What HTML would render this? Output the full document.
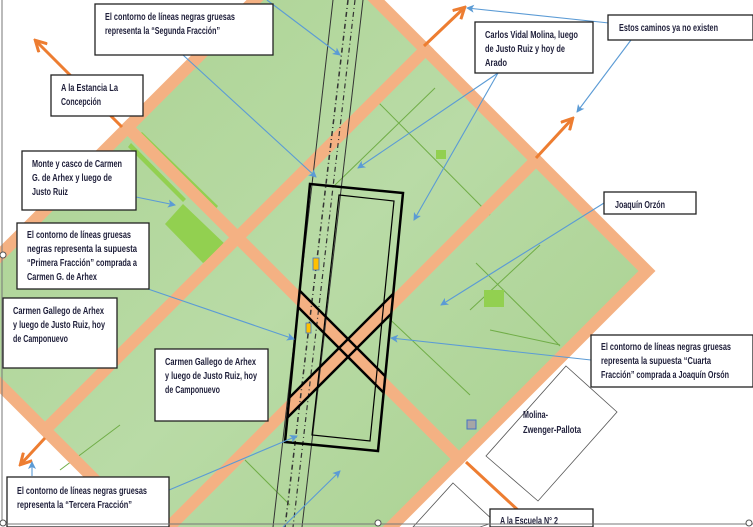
<!DOCTYPE html>
<html><head><meta charset="utf-8"><style>
html,body{margin:0;padding:0;background:#fff;overflow:hidden;width:753px;height:527px;}
svg{display:block;}
text{font-family:"Liberation Sans Narrow","Liberation Sans",sans-serif;font-size:10.5px;font-weight:bold;fill:#1f1f3a;}
</style></head><body>
<svg width="753" height="527" viewBox="0 0 753 527" xmlns="http://www.w3.org/2000/svg">
<defs>
<linearGradient id="g" x1="0" y1="0" x2="1" y2="1">
<stop offset="0" stop-color="#a7d08c"/><stop offset="0.5" stop-color="#b9dba6"/><stop offset="1" stop-color="#a3cd88"/>
</linearGradient>
<marker id="ab" markerWidth="8" markerHeight="8" refX="7" refY="4" orient="auto" markerUnits="userSpaceOnUse"><path d="M0,0 L8,4 L0,8 L2,4 z" fill="#5b9bd5"/></marker>
<marker id="ao" markerWidth="14" markerHeight="14" refX="11" refY="7" orient="auto" markerUnits="userSpaceOnUse"><path d="M1,1 L12,7 L1,13" fill="none" stroke="#ed7d31" stroke-width="3"/></marker>
<clipPath id="frac"><polygon points="310,184 403,193 378,451 285,442"/></clipPath>
</defs>
<rect width="753" height="527" fill="#fff"/>
<polygon points="315.5,-60.5 647,271 266.5,651.5 -65,320" fill="url(#g)"/>
<g stroke="#70ad47" stroke-width="1" fill="none">
<line x1="376" y1="100" x2="490" y2="215"/>
<line x1="476" y1="263" x2="560" y2="346"/>
<line x1="380" y1="310" x2="470" y2="395"/>
<line x1="245" y1="460" x2="290" y2="505"/>
<line x1="258" y1="437" x2="230" y2="470"/>
<line x1="120" y1="425" x2="60" y2="470"/>
<line x1="435" y1="88" x2="335" y2="185"/>
<line x1="540" y1="245" x2="470" y2="310"/>
<line x1="490" y1="330" x2="560" y2="345"/>
</g>
<g fill="#92d050">
<polygon points="165,224 183,204 228,247 203,263"/>
<polygon points="128,147 131,143 186,199 183,202"/>
<polygon points="138,135 142,132 218,206 215,210"/>
<rect x="436" y="150" width="10" height="9"/>
<rect x="484" y="290" width="20" height="17"/>
</g>
<rect x="467" y="420" width="9" height="9" fill="#a6a6a6" stroke="#4472c4" stroke-width="1"/>
<g stroke="#f4b183" stroke-width="12" stroke-linecap="square" fill="none">
<polygon points="315.5,-60.5 647,271 266.5,651.5 -65,320"/>
<line x1="425.5" y1="49.5" x2="45" y2="430"/>
<line x1="536" y1="160" x2="155.5" y2="540.5"/>
<line x1="127.5" y1="127.5" x2="459" y2="459"/>
</g>
<g stroke="#333" fill="none">
<line x1="333" y1="0" x2="273" y2="527" stroke-width="1"/>
<line x1="363" y1="0" x2="302" y2="527" stroke-width="1"/>
<line x1="348" y1="0" x2="285" y2="527" stroke-width="1.5" stroke-dasharray="5,3,1,3"/>
<line x1="355" y1="0" x2="293" y2="527" stroke-width="1.2" stroke-dasharray="5,3,1,3"/>
</g>
<g fill="none" stroke="#000">
<polygon points="310,184 403,193 378,451 285,442" stroke-width="2.5"/>
<polygon points="339,195 394,201 370,441 312,435" stroke-width="1.2"/>
<g clip-path="url(#frac)" stroke-width="2.5">
<line x1="250" y1="241" x2="450" y2="441"/>
<line x1="250" y1="259" x2="450" y2="459"/>
<line x1="250" y1="437" x2="450" y2="237"/>
<line x1="250" y1="455" x2="450" y2="255"/>
</g>
</g>
<rect x="313" y="258" width="6" height="12" fill="#ffc000" stroke="#4472c4" stroke-width="0.8"/>
<rect x="306" y="323" width="5" height="10" fill="#ffc000" stroke="#4472c4" stroke-width="0.8"/>
<g stroke="#ed7d31" stroke-width="3" fill="none">
<line x1="122" y1="127" x2="36" y2="41" marker-end="url(#ao)"/>
<line x1="424" y1="46" x2="464" y2="8" marker-end="url(#ao)"/>
<line x1="536" y1="158" x2="572" y2="119" marker-end="url(#ao)"/>
<line x1="45" y1="438" x2="21" y2="464" marker-end="url(#ao)"/>
<line x1="466" y1="462" x2="520" y2="512"/>
</g>
<polygon points="566,366 617,412 538,501 486,456" fill="#fff" stroke="#555" stroke-width="0.8"/>
<polygon points="453,483 495,522 480,527 413,527" fill="#fff" stroke="#555" stroke-width="0.8"/>
<text x="523" y="418" textLength="25" lengthAdjust="spacingAndGlyphs">Molina-</text>
<text x="523" y="433" textLength="58" lengthAdjust="spacingAndGlyphs">Zwenger-Pallota</text>
<g stroke="#5b9bd5" stroke-width="1.1" fill="none" marker-end="url(#ab)">
<line x1="183" y1="55" x2="316" y2="177"/>
<line x1="267" y1="0" x2="340" y2="55"/>
<line x1="498" y1="73" x2="358" y2="168"/>
<line x1="498" y1="73" x2="414" y2="220"/>
<line x1="609" y1="23" x2="467" y2="8"/>
<line x1="631" y1="40" x2="577" y2="112"/>
<line x1="604" y1="203" x2="441" y2="305"/>
<line x1="591" y1="360" x2="391" y2="338"/>
<line x1="136" y1="197" x2="175" y2="205"/>
<line x1="148" y1="289" x2="294" y2="339"/>
<line x1="162" y1="493" x2="297" y2="436"/>
<line x1="32" y1="476" x2="32" y2="462"/>
<line x1="283" y1="527" x2="340" y2="471"/>
</g>
<g fill="#fff" stroke="#222" stroke-width="1.3">
<rect x="95" y="4" width="178" height="51"/>
<rect x="51" y="75" width="92" height="41"/>
<rect x="22" y="151" width="114" height="59"/>
<rect x="17" y="223" width="132" height="66"/>
<rect x="3" y="298" width="114" height="70"/>
<rect x="155" y="349" width="113" height="72"/>
<rect x="7" y="477" width="162" height="50"/>
<rect x="475" y="22" width="118" height="51"/>
<rect x="608" y="15" width="145" height="25"/>
<rect x="604" y="192" width="92" height="22"/>
<rect x="591" y="335" width="162" height="52"/>
<rect x="490" y="509" width="103" height="18"/>
</g>
<text x="105" y="20" textLength="130" lengthAdjust="spacingAndGlyphs">El contorno de líneas negras gruesas</text>
<text x="105" y="34" textLength="115" lengthAdjust="spacingAndGlyphs">representa la “Segunda Fracción”</text>
<text x="61" y="91" textLength="57" lengthAdjust="spacingAndGlyphs">A la Estancia La</text>
<text x="61" y="105" textLength="40" lengthAdjust="spacingAndGlyphs">Concepción</text>
<text x="32" y="167" textLength="90" lengthAdjust="spacingAndGlyphs">Monte y casco de Carmen</text>
<text x="32" y="181" textLength="80" lengthAdjust="spacingAndGlyphs">G. de Arhex y luego de</text>
<text x="32" y="195" textLength="36" lengthAdjust="spacingAndGlyphs">Justo Ruiz</text>
<text x="27" y="238" textLength="104" lengthAdjust="spacingAndGlyphs">El contorno de líneas gruesas</text>
<text x="27" y="252" textLength="110" lengthAdjust="spacingAndGlyphs">negras representa la supuesta</text>
<text x="27" y="266" textLength="110" lengthAdjust="spacingAndGlyphs">“Primera Fracción” comprada a</text>
<text x="27" y="280" textLength="70" lengthAdjust="spacingAndGlyphs">Carmen G. de Arhex</text>
<text x="13" y="314" textLength="91" lengthAdjust="spacingAndGlyphs">Carmen Gallego de Arhex</text>
<text x="13" y="328" textLength="92" lengthAdjust="spacingAndGlyphs">y luego de Justo Ruiz, hoy</text>
<text x="13" y="342" textLength="55" lengthAdjust="spacingAndGlyphs">de Camponuevo</text>
<text x="165" y="365" textLength="91" lengthAdjust="spacingAndGlyphs">Carmen Gallego de Arhex</text>
<text x="165" y="379" textLength="92" lengthAdjust="spacingAndGlyphs">y luego de Justo Ruiz, hoy</text>
<text x="165" y="393" textLength="55" lengthAdjust="spacingAndGlyphs">de Camponuevo</text>
<text x="17" y="494" textLength="130" lengthAdjust="spacingAndGlyphs">El contorno de líneas negras gruesas</text>
<text x="17" y="508" textLength="115" lengthAdjust="spacingAndGlyphs">representa la “Tercera Fracción”</text>
<text x="485" y="38" textLength="93" lengthAdjust="spacingAndGlyphs">Carlos Vidal Molina, luego</text>
<text x="485" y="52" textLength="80" lengthAdjust="spacingAndGlyphs">de Justo Ruiz y hoy de</text>
<text x="485" y="66" textLength="22" lengthAdjust="spacingAndGlyphs">Arado</text>
<text x="619" y="31" textLength="99" lengthAdjust="spacingAndGlyphs">Estos caminos ya no existen</text>
<text x="615" y="208" textLength="50" lengthAdjust="spacingAndGlyphs">Joaquín Orzón</text>
<text x="601" y="350" textLength="130" lengthAdjust="spacingAndGlyphs">El contorno de líneas negras gruesas</text>
<text x="601" y="364" textLength="110" lengthAdjust="spacingAndGlyphs">representa la supuesta “Cuarta</text>
<text x="601" y="378" textLength="128" lengthAdjust="spacingAndGlyphs">Fracción” comprada a Joaquín Orsón</text>
<text x="500" y="524" textLength="58" lengthAdjust="spacingAndGlyphs">A la Escuela N° 2</text>
<line x1="2" y1="0" x2="2" y2="524" stroke="#777" stroke-width="1"/>
<line x1="0" y1="524" x2="753" y2="524" stroke="#777" stroke-width="1"/>
<g fill="#fff" stroke="#555" stroke-width="1">
<circle cx="3" cy="255" r="3"/>
<circle cx="3" cy="523" r="3"/>
<circle cx="378" cy="523" r="3"/>
<circle cx="749" cy="523" r="3"/>
</g>
</svg>
</body></html>
